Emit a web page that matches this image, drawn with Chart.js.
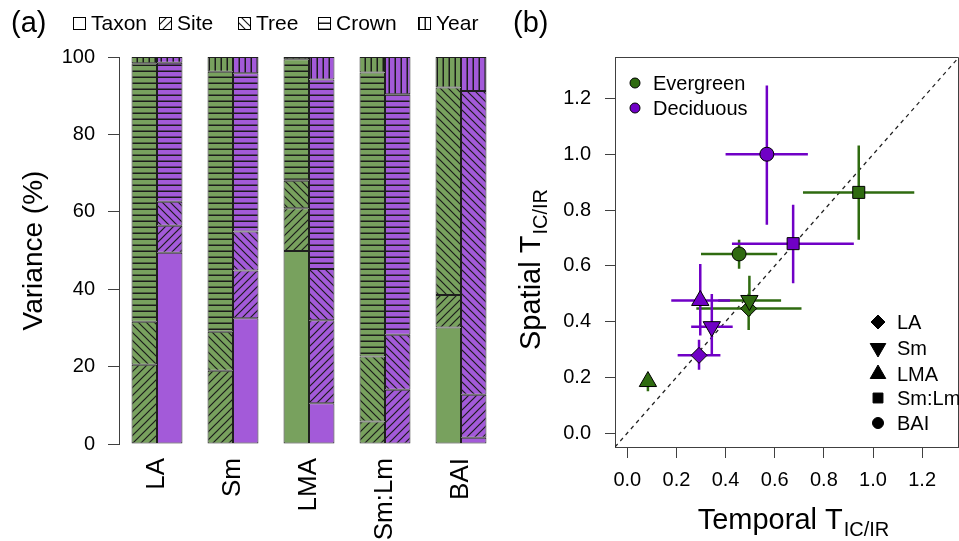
<!DOCTYPE html>
<html>
<head>
<meta charset="utf-8">
<script src="https://cdn.jsdelivr.net/npm/chart.js@4.4.1/dist/chart.umd.min.js"></script>
<style>
html, body { margin: 0; padding: 0; background: #fff; width: 959px; height: 541px; overflow: hidden; position: relative; }
#chartA { position: absolute; left: 0; top: 0; }
#chartB { position: absolute; left: 500px; top: 0; }
</style>
</head>
<body>
<canvas id="chartA" width="510" height="541"></canvas>
<canvas id="chartB" width="470" height="541"></canvas>
<script>
// ---- panel (a): variance partitioning, % ----
const traits = ['LA', 'Sm', 'LMA', 'Sm:Lm', 'BAI']
const components = ['Taxon', 'Site', 'Tree', 'Crown', 'Year']
const varTicks = [0, 20, 40, 60, 80, 100]

// evergreen (left bar of each pair)
const evTaxon = [0, 0, 49.9, 0, 30.1]
const evSite = [20.5, 18.9, 11.0, 5.8, 8.4]
const evTree = [11.1, 10.1, 7.1, 16.8, 53.6]
const evCrown = [66.8, 67.2, 31.4, 73.4, 0]
const evYear = [1.6, 3.8, 0.6, 4.0, 7.9]
// deciduous (right bar of each pair)
const deTaxon = [49.4, 32.5, 10.5, 0, 1.6]
const deSite = [7.0, 12.3, 21.5, 14.0, 11.1]
const deTree = [6.2, 10.1, 13.2, 14.2, 78.5]
const deCrown = [35.9, 40.9, 49.0, 62.2, 0]
const deYear = [1.5, 4.2, 5.8, 9.6, 8.8]

// ---- panel (b): temporal vs spatial T_IC/IR (order: LA, Sm, LMA, Sm:Lm, BAI) ----
const tTicks = [0, 0.2, 0.4, 0.6, 0.8, 1.0, 1.2]
const evX = [0.494, 0.497, 0.084, 0.942, 0.455]
const evY = [0.447, 0.476, 0.185, 0.864, 0.643]
const evXLo = [0.281, 0.370, 0.070, 0.715, 0.300]
const evXHi = [0.709, 0.626, 0.100, 1.168, 0.610]
const evYLo = [0.370, 0.420, 0.150, 0.694, 0.590]
const evYHi = [0.500, 0.565, 0.205, 1.032, 0.694]

const deX = [0.292, 0.344, 0.297, 0.675, 0.568]
const deY = [0.279, 0.382, 0.476, 0.680, 1.001]
const deXLo = [0.205, 0.260, 0.179, 0.426, 0.400]
const deXHi = [0.379, 0.429, 0.418, 0.922, 0.735]
const deYLo = [0.227, 0.277, 0.350, 0.538, 0.748]
const deYHi = [0.335, 0.499, 0.607, 0.820, 1.248]

const FONT = "'Liberation Sans', Arial, sans-serif"
Chart.defaults.font.family = FONT
Chart.defaults.color = '#000'

const barGreen = '#78A15E', barPurple = '#A35AD9'
const dotGreen = '#2F6B10', dotPurple = '#7000C6'
const axisCol = '#404040'

// hatch fills like R's density/angle shading
function hatch(ctx, kind, bg) {
	if (kind === 'Taxon') return bg
	const s = (kind === 'Site' || kind === 'Tree') ? 8 : 6
	const tile = document.createElement('canvas')
	tile.width = s; tile.height = s
	const g = tile.getContext('2d')
	g.fillStyle = bg; g.fillRect(0, 0, s, s)
	g.strokeStyle = '#1b1b1b'; g.fillStyle = '#1b1b1b'; g.lineWidth = 1.2
	if (kind === 'Site') { // "/"
		g.beginPath()
		g.moveTo(-1, s + 1); g.lineTo(s + 1, -1)
		g.moveTo(-1, 1); g.lineTo(1, -1)
		g.moveTo(s - 1, s + 1); g.lineTo(s + 1, s - 1)
		g.stroke()
	} else if (kind === 'Tree') { // "\"
		g.beginPath()
		g.moveTo(-1, -1); g.lineTo(s + 1, s + 1)
		g.moveTo(s - 1, -1); g.lineTo(s + 1, 1)
		g.moveTo(-1, s - 1); g.lineTo(1, s + 1)
		g.stroke()
	} else if (kind === 'Crown') {
		g.fillRect(0, s - 1.5, s, 1.5)
	} else if (kind === 'Year') {
		g.fillRect(s - 1.5, 0, 1.5, s)
	}
	return ctx.createPattern(tile, 'repeat')
}

const ctxA = document.getElementById('chartA').getContext('2d')
const evSeries = [evTaxon, evSite, evTree, evCrown, evYear]
const deSeries = [deTaxon, deSite, deTree, deCrown, deYear]
const legendFills = components.map(c => hatch(ctxA, c, '#ffffff'))

function barSet(label, data, fill, stack) {
	return {
		label, data, stack,
		backgroundColor: fill,
		borderColor: '#1e1e1e',
		borderWidth: 1,
		borderSkipped: false,
		barPercentage: 1,
		categoryPercentage: 0.67
	}
}

const datasetsA = []
components.forEach((c, i) => datasetsA.push(barSet(c, evSeries[i], hatch(ctxA, c, barGreen), 'ev')))
components.forEach((c, i) => datasetsA.push(barSet(c, deSeries[i], hatch(ctxA, c, barPurple), 'de')))

const panelA = {
	id: 'panelA',
	afterDraw(chart) {
		const ctx = chart.ctx
		ctx.save()
		ctx.fillStyle = '#000'
		ctx.textBaseline = 'alphabetic'
		ctx.font = `29px ${FONT}`
		ctx.fillText('(a)', 11, 32)
		ctx.font = `21px ${FONT}`
		const boxX = [73, 159, 238, 318, 418]
		components.forEach((c, i) => {
			ctx.fillStyle = legendFills[i]
			ctx.fillRect(boxX[i], 17, 12, 12)
			ctx.strokeStyle = '#000'; ctx.lineWidth = 1
			ctx.strokeRect(boxX[i] + 0.5, 17.5, 12, 12)
			ctx.fillStyle = '#000'
			ctx.fillText(c, boxX[i] + 18, 30)
		})
		ctx.restore()
	}
}

new Chart(ctxA, {
	type: 'bar',
	data: { labels: traits, datasets: datasetsA },
	options: {
		responsive: false,
		animation: false,
		events: [],
		layout: { padding: { left: 0, top: 57, right: 11, bottom: 0 } },
		plugins: { legend: { display: false }, tooltip: { enabled: false } },
		scales: {
			x: {
				stacked: true,
				offset: true,
				grid: { display: false, drawTicks: false },
				border: { display: false },
				ticks: { minRotation: 90, maxRotation: 90, autoSkip: false, font: { size: 26 }, color: '#000', padding: 14 },
				afterFit: s => { s.height = 97 }
			},
			y: {
				stacked: true,
				min: 0, max: 100,
				afterBuildTicks: s => { s.ticks = varTicks.map(v => ({ value: v })) },
				ticks: { font: { size: 20 }, color: '#000', padding: 13 },
				grid: { drawOnChartArea: false, tickLength: 11, color: axisCol, lineWidth: 1 },
				border: { display: true, color: axisCol, width: 1 },
				title: { display: true, text: 'Variance (%)', font: { size: 28 }, color: '#000', padding: { top: 17, bottom: 0 } },
				afterFit: s => { s.width = 119 }
			}
		}
	},
	plugins: [panelA]
})

// ---- panel (b) ----
const shapeStyle = ['rectRot', 'triangle', 'triangle', 'rect', 'circle']
const shapeRot = [0, 180, 0, 0, 0]
const shapeRadius = [8, 10, 10, 8.5, 7]
const legendRadius = [7, 9, 9, 7, 5.5]

const errBars = [
	{ color: dotGreen, x: evX, y: evY, xLo: evXLo, xHi: evXHi, yLo: evYLo, yHi: evYHi },
	{ color: dotPurple, x: deX, y: deY, xLo: deXLo, xHi: deXHi, yLo: deYLo, yHi: deYHi }
]

function pointSet(label, xs, ys, col) {
	return {
		label,
		data: xs.map((x, i) => ({ x, y: ys[i] })),
		showLine: false,
		pointStyle: shapeStyle,
		pointRotation: shapeRot,
		pointRadius: shapeRadius,
		pointBackgroundColor: col,
		pointBorderColor: '#000',
		pointBorderWidth: 1
	}
}

function subTitle(ctx, main, sub, cx, cy, rot) {
	ctx.save()
	ctx.translate(cx, cy)
	ctx.rotate(rot)
	ctx.fillStyle = '#000'
	ctx.textAlign = 'left'
	ctx.textBaseline = 'alphabetic'
	ctx.font = `29px ${FONT}`
	const w1 = ctx.measureText(main).width
	ctx.font = `20px ${FONT}`
	const w2 = ctx.measureText(sub).width
	const x0 = -(w1 + w2) / 2
	ctx.font = `29px ${FONT}`
	ctx.fillText(main, x0, 0)
	ctx.font = `20px ${FONT}`
	ctx.fillText(sub, x0 + w1 + 1, 7)
	ctx.restore()
}

const panelB = {
	id: 'panelB',
	beforeDatasetsDraw(chart) {
		const { ctx, chartArea: a, scales: { x, y } } = chart
		ctx.save()
		ctx.beginPath()
		ctx.rect(a.left, a.top, a.right - a.left, a.bottom - a.top)
		ctx.clip()
		// 1:1 line
		ctx.setLineDash([4, 4])
		ctx.lineWidth = 1.2
		ctx.strokeStyle = '#222'
		ctx.beginPath()
		ctx.moveTo(x.getPixelForValue(x.min), y.getPixelForValue(x.min))
		ctx.lineTo(x.getPixelForValue(x.max), y.getPixelForValue(x.max))
		ctx.stroke()
		ctx.setLineDash([])
		// error bars
		ctx.lineWidth = 2.5
		errBars.forEach(e => {
			ctx.strokeStyle = e.color
			e.x.forEach((xv, i) => {
				const px = x.getPixelForValue(xv), py = y.getPixelForValue(e.y[i])
				ctx.beginPath()
				ctx.moveTo(x.getPixelForValue(e.xLo[i]), py)
				ctx.lineTo(x.getPixelForValue(e.xHi[i]), py)
				ctx.moveTo(px, y.getPixelForValue(e.yLo[i]))
				ctx.lineTo(px, y.getPixelForValue(e.yHi[i]))
				ctx.stroke()
			})
		})
		ctx.restore()
	},
	afterDraw(chart) {
		const { ctx, chartArea: a } = chart
		ctx.save()
		// box top + right
		ctx.strokeStyle = axisCol; ctx.lineWidth = 1
		ctx.beginPath()
		ctx.moveTo(Math.round(a.left), Math.round(a.top) + 0.5)
		ctx.lineTo(Math.round(a.right) - 0.5, Math.round(a.top) + 0.5)
		ctx.lineTo(Math.round(a.right) - 0.5, Math.round(a.bottom))
		ctx.stroke()
		// panel tag
		ctx.fillStyle = '#000'
		ctx.font = `29px ${FONT}`
		ctx.textBaseline = 'alphabetic'
		ctx.fillText('(b)', 13, 32)
		// colour legend
		ctx.font = `20px ${FONT}`
		ctx.textBaseline = 'middle'
		;[['Evergreen', dotGreen, 83], ['Deciduous', dotPurple, 108]].forEach(([t, c, yy]) => {
			ctx.fillStyle = c; ctx.strokeStyle = '#000'; ctx.lineWidth = 1
			ctx.beginPath(); ctx.arc(135, yy, 5, 0, Math.PI * 2); ctx.fill(); ctx.stroke()
			ctx.fillStyle = '#000'
			ctx.fillText(t, 153, yy + 1)
		})
		// shape legend
		const rowsY = [322, 348, 374, 398, 423]
		traits.forEach((t, i) => {
			ctx.fillStyle = '#000'; ctx.strokeStyle = '#000'; ctx.lineWidth = 1
			Chart.helpers.drawPoint(ctx, { pointStyle: shapeStyle[i], rotation: shapeRot[i], radius: legendRadius[i], borderWidth: 1 }, 378, rowsY[i])
			ctx.fillText(t, 397, rowsY[i] + 1)
		})
		ctx.restore()
		subTitle(ctx, 'Temporal T', 'IC/IR', (a.left + a.right) / 2 + 6, 529, 0)
		subTitle(ctx, 'Spatial T', 'IC/IR', 40, 270, -Math.PI / 2)
	}
}

new Chart(document.getElementById('chartB'), {
	type: 'scatter',
	data: {
		datasets: [
			pointSet('Evergreen', evX, evY, dotGreen),
			pointSet('Deciduous', deX, deY, dotPurple)
		]
	},
	options: {
		responsive: false,
		animation: false,
		events: [],
		layout: { padding: { left: 0, top: 57, right: 0, bottom: 0 } },
		plugins: { legend: { display: false }, tooltip: { enabled: false } },
		scales: {
			x: {
				type: 'linear', min: -0.05, max: 1.35,
				afterBuildTicks: s => { s.ticks = tTicks.map(v => ({ value: v })) },
				ticks: { callback: v => Number(v).toFixed(1), font: { size: 20 }, color: '#000', padding: 10, maxRotation: 0, autoSkip: false },
				grid: { drawOnChartArea: false, tickLength: 11, color: axisCol },
				border: { display: true, color: axisCol },
				afterFit: s => { s.height = 94 }
			},
			y: {
				type: 'linear', min: -0.05, max: 1.35,
				afterBuildTicks: s => { s.ticks = tTicks.map(v => ({ value: v })) },
				ticks: { callback: v => Number(v).toFixed(1), font: { size: 20 }, color: '#000', padding: 14, autoSkip: false },
				grid: { drawOnChartArea: false, tickLength: 10, color: axisCol },
				border: { display: true, color: axisCol },
				afterFit: s => { s.width = 115 }
			}
		}
	},
	plugins: [panelB]
})
</script>
</body>
</html>
